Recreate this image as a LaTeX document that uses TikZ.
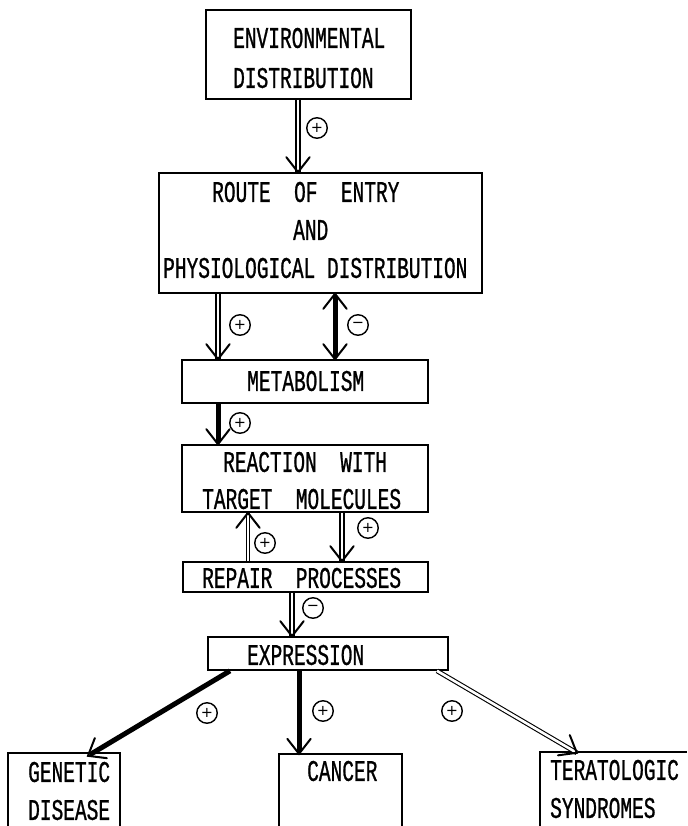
\documentclass[tikz,border=0pt]{standalone}
\usepackage{fontspec}
\usetikzlibrary{calc}
\newfontfamily\diagfont[FakeStretch=0.65,FakeBold=0.8]{Liberation Mono}
\newfontfamily\signfont{DejaVu Sans}

% open chevron tip: #1 = coordinate the arrow comes from, #2 = tip point
\newcommand\barbtip[2]{\draw[barb] ($(#2)!19pt!38:(#1)$) -- (#2) -- ($(#2)!19pt!-38:(#1)$);}

\begin{document}
\begin{tikzpicture}[x=1pt,y=-1pt,
  box/.style={draw, line width=1.7pt, rectangle, inner sep=0pt},
  openbox/.style={rectangle, inner sep=0pt},
  lbl/.style={font=\diagfont\fontsize{30pt}{36pt}\selectfont, inner sep=0pt, anchor=west},
  sign/.style={circle, draw, line width=1.4pt, minimum size=20.5pt, inner sep=0pt,
               font=\signfont\fontsize{14.5pt}{14.5pt}\selectfont},
  dshaft/.style={double, line width=1.7pt, double distance=2.2pt},
  thinshaft/.style={double, line width=1.1pt, double distance=2.6pt},
  solidshaft/.style={line width=5pt, shorten >=2pt},
  solidboth/.style={line width=5pt, shorten >=2pt, shorten <=2pt},
  barb/.style={line width=2pt, line cap=round, line join=miter}]

\useasboundingbox (0,0) rectangle (687,826);

% boxes
\node[box, minimum width=205pt, minimum height=89pt] (env) at (308.5,54.5) {};
\node[box, minimum width=323pt, minimum height=120pt] (route) at (320.5,233) {};
\node[box, minimum width=246pt, minimum height=43pt] (metab) at (305,381.5) {};
\node[box, minimum width=246pt, minimum height=67pt] (react) at (305,478.5) {};
\node[box, minimum width=245pt, minimum height=30pt] (repair) at (305.5,577) {};
\node[box, minimum width=240pt, minimum height=33pt] (expr) at (328,653.5) {};
\node[openbox, minimum width=112pt, minimum height=73pt] (gen) at (64,789.5) {};
\node[openbox, minimum width=123pt, minimum height=72pt] (cancer) at (340.5,790) {};
\node[openbox, minimum width=147pt, minimum height=74pt] (tera) at (613.5,789) {};
\draw[line width=1.7pt] (gen.south west) -- (gen.north west) -- (gen.north east) -- (gen.south east);
\draw[line width=1.7pt] (cancer.south west) -- (cancer.north west) -- (cancer.north east) -- (cancer.south east);
\draw[line width=1.7pt] (tera.south west) -- (tera.north west) -- (tera.north east);
\path ([xshift=-6.5pt,yshift=-3pt]tera.south) coordinate (terab);
\draw[line width=0.9pt] (terab) -- (terab -| tera.east);

% labels
\node[lbl] (t1) at (233,38) {ENVIRONMENTAL};
\node[lbl] (t2) at (233,78) {DISTRIBUTION};
\node[lbl] (t3) at (212,192) {ROUTE~~OF~~ENTRY};
\node[lbl] (t4) at (293,230) {AND};
\node[lbl] (t5) at (163,268) {PHYSIOLOGICAL DISTRIBUTION};
\node[lbl] (t6) at (247,381) {METABOLISM};
\node[lbl] (t7) at (223,462) {REACTION~~WITH};
\node[lbl] (t8) at (202,499) {TARGET~~MOLECULES};
\node[lbl] (t9) at (202,578) {REPAIR~~PROCESSES};
\node[lbl] (t10) at (247,655) {EXPRESSION};
\node[lbl] (t11) at (28,772) {GENETIC};
\node[lbl] (t12) at (28,810) {DISEASE};
\node[lbl] (t13) at (307,771) {CANCER};
\node[lbl] (t14) at (550,770) {TERATOLOGIC};
\node[lbl] (t15) at (550,808) {SYNDROMES};

% connector end points
\path ([xshift=-10.5pt]env.south) coordinate (a1s);
\path (a1s |- route.north) coordinate (a1e);
\path ([xshift=-102.5pt]route.south) coordinate (a2s);
\path (a2s |- metab.north) coordinate (a2e);
\path ([xshift=14.5pt]route.south) coordinate (a3s);
\path (a3s |- metab.north) coordinate (a3e);
\path ([xshift=-87pt]metab.south) coordinate (a4s);
\path (a4s |- react.north) coordinate (a4e);
\path ([xshift=-57.5pt]repair.north) coordinate (a5s);
\path (a5s |- react.south) coordinate (a5e);
\path ([xshift=37pt]react.south) coordinate (a6s);
\path (a6s |- repair.north) coordinate (a6e);
\path ([xshift=-13.5pt]repair.south) coordinate (a7s);
\path (a7s |- expr.north) coordinate (a7e);
\path ([xshift=-98pt]expr.south) coordinate (a8s);
\path ([xshift=24pt,yshift=-3pt]gen.north) coordinate (a8e);
\path ([xshift=-29pt]expr.south) coordinate (a9s);
\path (a9s |- cancer.north) coordinate (a9e);
\path ([xshift=109pt]expr.south) coordinate (a10s);
\path ([xshift=37pt,yshift=-1pt]tera.north west) coordinate (a10e);

% connectors
\draw[dshaft] (a1s) -- (a1e);        \barbtip{a1s}{a1e}
\draw[dshaft] (a2s) -- (a2e);        \barbtip{a2s}{a2e}
\draw[solidboth] (a3s) -- (a3e);     \barbtip{a3s}{a3e} \barbtip{a3e}{a3s}
\draw[solidshaft] (a4s) -- (a4e);    \barbtip{a4s}{a4e}
\draw[thinshaft] (a5s) -- (a5e);     \barbtip{a5s}{a5e}
\draw[dshaft] (a6s) -- (a6e);        \barbtip{a6s}{a6e}
\draw[dshaft] (a7s) -- (a7e);        \barbtip{a7s}{a7e}
\draw[solidshaft] (a8s) -- (a8e);    \barbtip{a8s}{a8e}
\draw[solidshaft] (a9s) -- (a9e);    \barbtip{a9s}{a9e}
\draw[thinshaft] (a10s) -- (a10e);   \barbtip{a10s}{a10e}

% signs
\node[sign] (s1) at (317,128) {+};
\node[sign] (s2) at (240,325) {+};
\node[sign] (s3) at (358,325) {−};
\node[sign] (s4) at (240,423) {+};
\node[sign] (s5) at (265,543) {+};
\node[sign] (s6) at (368,528) {+};
\node[sign] (s7) at (313,608) {−};
\node[sign] (s8) at (207,713) {+};
\node[sign] (s9) at (323,711) {+};
\node[sign] (s10) at (452,711) {+};

\end{tikzpicture}
\end{document}
